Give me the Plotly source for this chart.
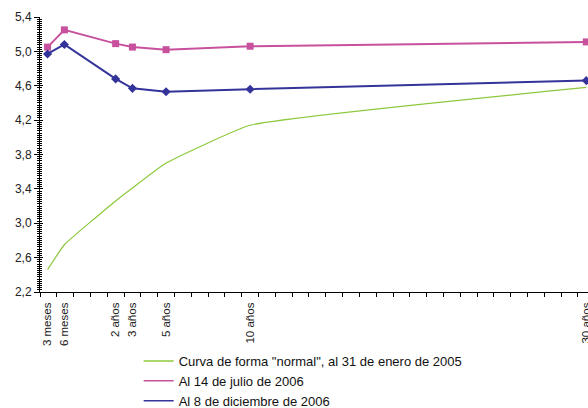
import plotly.graph_objects as go

# Category labels and their horizontal positions on the chart's x scale
labels = ["3 meses", "6 meses", "2 años", "3 años", "5 años", "10 años", "30 años"]
xpos = [0.45, 1.45, 4.5, 5.5, 7.5, 12.5, 32.5]

green_vals = [2.46, 2.75, 3.26, 3.41, 3.70, 4.14, 4.58]
pink_vals = [5.05, 5.25, 5.09, 5.05, 5.02, 5.06, 5.11]
blue_vals = [4.97, 5.08, 4.68, 4.57, 4.53, 4.56, 4.66]

names = ['Curva de forma "normal", al 31 de enero de 2005',
         "Al 14 de julio de 2006",
         "Al 8 de diciembre de 2006"]

GREEN = "#8cc83c"
PINK = "#c8519e"
BLUE = "#33339a"

fig = go.Figure()
fig.add_trace(go.Scatter(x=xpos, y=green_vals, name=names[0], mode="lines",
                         line=dict(color=GREEN, width=1.2, shape="spline", smoothing=0.35),
                         showlegend=False, legendgroup="g"))
fig.add_trace(go.Scatter(x=xpos, y=pink_vals, name=names[1], mode="lines+markers",
                         line=dict(color=PINK, width=2),
                         marker=dict(symbol="square", size=7, color=PINK),
                         showlegend=False, legendgroup="p"))
fig.add_trace(go.Scatter(x=xpos, y=blue_vals, name=names[2], mode="lines+markers",
                         line=dict(color=BLUE, width=2),
                         marker=dict(symbol="diamond", size=7, color=BLUE),
                         showlegend=False, legendgroup="b"))
# legend entries (line swatches only, as in the original)
for nm, col, grp in zip(names, [GREEN, PINK, BLUE], ["g", "p", "b"]):
    fig.add_trace(go.Scatter(x=[None], y=[None], name=nm, mode="lines",
                             line=dict(color=col, width=1.5), legendgroup=grp))
# invisible trace to carry the inside ticks of the y axis
fig.add_trace(go.Scatter(x=[None], y=[None], yaxis="y2", showlegend=False, hoverinfo="skip"))

fig.update_layout(
    width=588, height=408,
    margin=dict(l=40, r=0, t=17, b=116),
    paper_bgcolor="white", plot_bgcolor="white",
    separators=",.",
    font=dict(family="Liberation Sans, Arial, sans-serif", size=12, color="#222222"),
    showlegend=True,
    legend=dict(x=0.18, y=1 - 346 / 408, xref="paper", yref="container",
                xanchor="left", yanchor="top",
                font=dict(size=13, color="#111111"),
                tracegroupgap=0, itemwidth=30, bgcolor="rgba(0,0,0,0)"),
    xaxis=dict(range=[0, 32.6], tickvals=xpos, ticktext=labels, tickangle=-90,
               ticks="outside", ticklen=5, tickcolor="rgba(0,0,0,0)",
               ticklabeloverflow="allow",
               showgrid=False, zeroline=False, automargin=False,
               showline=True, linecolor="black", linewidth=1,
               tickfont=dict(size=11.5),
               minor=dict(tick0=0, dtick=1, ticks="outside", ticklen=4,
                          tickcolor="black", showgrid=False)),
    yaxis=dict(range=[2.2, 5.4], dtick=0.4, tick0=2.2, tickformat=".1f",
               ticks="outside", ticklen=5, tickcolor="black",
               showgrid=False, zeroline=False, automargin=False,
               showline=True, linecolor="black", linewidth=1,
               tickfont=dict(size=12),
               minor=dict(dtick=0.025, tick0=2.2, ticks="outside", ticklen=2,
                          tickcolor="black", showgrid=False)),
    yaxis2=dict(range=[2.2, 5.4], overlaying="y", side="left", dtick=0.4, tick0=2.2,
                ticks="inside", ticklen=3, tickcolor="black", automargin=False,
                showticklabels=False, showgrid=False, zeroline=False, showline=False,
                minor=dict(dtick=0.025, tick0=2.2, ticks="inside", ticklen=2,
                           tickcolor="black", showgrid=False)),
)

fig.write_html("out.html")
